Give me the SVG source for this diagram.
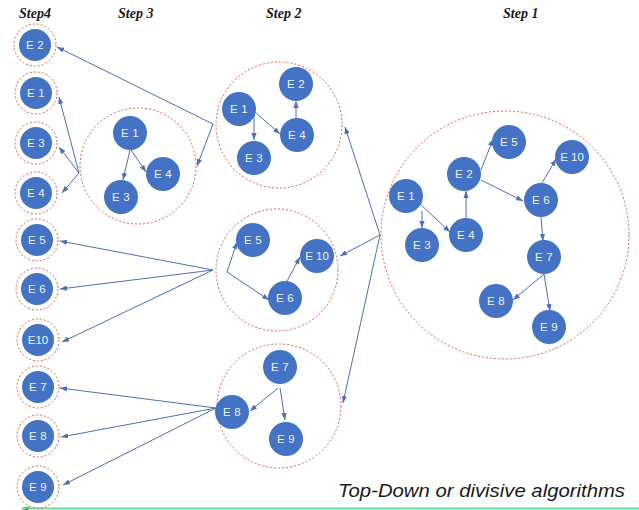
<svg xmlns="http://www.w3.org/2000/svg" width="639" height="510" viewBox="0 0 639 510">
<style>
.bg{fill:#ffffff}
.ring{fill:none;stroke:#d9604f;stroke-width:1;stroke-dasharray:2 2}
.node{fill:#4472c4}
.lbl{font-family:"Liberation Sans",Arial,sans-serif;font-size:11.5px;fill:#eef3fb;text-anchor:middle;dominant-baseline:central;letter-spacing:0.3px}
.step{font-family:"Liberation Serif","Times New Roman",serif;font-size:14px;font-weight:bold;font-style:italic;fill:#1a1a1a}
.cap{font-family:"Liberation Sans",Arial,sans-serif;font-size:19px;font-style:italic;fill:#1a1a1a}
.edge{fill:none;stroke:#4d6fb3;stroke-width:1;marker-end:url(#ah)}
</style>
<defs>
<marker id="ah" viewBox="0 0 8 6" refX="8" refY="3" markerWidth="7" markerHeight="5.5" markerUnits="userSpaceOnUse" orient="auto">
<path d="M0,0 L8,3 L0,6 z" fill="#4d6fb3"/>
</marker>
<marker id="gh" viewBox="0 0 8 6" refX="8" refY="3" markerWidth="7" markerHeight="5" markerUnits="userSpaceOnUse" orient="auto">
<path d="M0,0 L8,3 L0,6 z" fill="#3fbf6f"/>
</marker>
</defs>
<rect class="bg" x="0" y="0" width="639" height="510"/>

<g id="titles">
<text class="step" x="19" y="18">Step4</text>
<text class="step" x="118" y="18">Step 3</text>
<text class="step" x="266" y="18">Step 2</text>
<text class="step" x="503" y="18">Step 1</text>
<text class="cap" x="338" y="497" textLength="287" lengthAdjust="spacingAndGlyphs">Top-Down or divisive algorithms</text>
</g>

<g id="cluster-rings">
<circle class="ring" cx="505" cy="235" r="124"/>
<circle class="ring" cx="279" cy="125" r="63"/>
<circle class="ring" cx="277" cy="270" r="61"/>
<circle class="ring" cx="279" cy="406" r="62"/>
<circle class="ring" cx="138" cy="166" r="58"/>
</g>

<g id="connectors">
<path class="edge" d="M422,211 L422,228"/>
<path class="edge" d="M419,203 L450,232"/>
<path class="edge" d="M466,218 L466,191"/>
<path class="edge" d="M481,170 L493,139"/>
<path class="edge" d="M481,180 L523,201"/>
<path class="edge" d="M542,183 L556,159"/>
<path class="edge" d="M541,217 L543,241"/>
<path class="edge" d="M544,274 L513,300"/>
<path class="edge" d="M544,274 L550,311"/>
<path class="edge" d="M380,235 L345,127"/>
<path class="edge" d="M380,235 L340,256"/>
<path class="edge" d="M380,235 L343,403"/>
<path class="edge" d="M254,114 L254,140"/>
<path class="edge" d="M255,112 L280,134"/>
<path class="edge" d="M296,119 L296,101"/>
<path class="edge" d="M213,124 L57,47"/>
<path class="edge" d="M213,124 L197,166"/>
<path class="edge" d="M130,150 L123,180"/>
<path class="edge" d="M131,150 L146,172"/>
<path class="edge" d="M79,173 L59,97"/>
<path class="edge" d="M79,173 L59,147"/>
<path class="edge" d="M79,173 L62,193"/>
<path class="edge" d="M227,272 L237,242"/>
<path class="edge" d="M227,272 L269,300"/>
<path class="edge" d="M286,283 L300,257"/>
<path class="edge" d="M213,270 L60,241"/>
<path class="edge" d="M213,270 L60,289"/>
<path class="edge" d="M213,270 L62,342"/>
<path class="edge" d="M278,388 L250,411"/>
<path class="edge" d="M280,388 L285,420"/>
<path class="edge" d="M216,408 L60,388"/>
<path class="edge" d="M216,408 L61,437"/>
<path class="edge" d="M216,408 L63,485"/>
<path d="M639,508.5 L22,508.5" fill="none" stroke="#6fd8a0" stroke-width="2" marker-end="url(#gh)"/>
</g>

<g id="s1-E1"><circle class="node" cx="406" cy="196" r="17"/><text class="lbl" x="406" y="196">E 1</text></g>
<g id="s1-E3"><circle class="node" cx="422" cy="245" r="17"/><text class="lbl" x="422" y="245">E 3</text></g>
<g id="s1-E4"><circle class="node" cx="466" cy="235" r="17"/><text class="lbl" x="466" y="235">E 4</text></g>
<g id="s1-E2"><circle class="node" cx="464" cy="174" r="17"/><text class="lbl" x="464" y="174">E 2</text></g>
<g id="s1-E5"><circle class="node" cx="509" cy="142" r="17"/><text class="lbl" x="509" y="142">E 5</text></g>
<g id="s1-E10"><circle class="node" cx="572" cy="157" r="17"/><text class="lbl" x="572" y="157" style="letter-spacing:0">E 10</text></g>
<g id="s1-E6"><circle class="node" cx="541" cy="200" r="17"/><text class="lbl" x="541" y="200">E 6</text></g>
<g id="s1-E7"><circle class="node" cx="544" cy="257" r="17"/><text class="lbl" x="544" y="257">E 7</text></g>
<g id="s1-E8"><circle class="node" cx="496" cy="301" r="17"/><text class="lbl" x="496" y="301">E 8</text></g>
<g id="s1-E9"><circle class="node" cx="549" cy="327" r="17"/><text class="lbl" x="549" y="327">E 9</text></g>

<g id="s2a-E1"><circle class="node" cx="239" cy="109" r="17"/><text class="lbl" x="239" y="109">E 1</text></g>
<g id="s2a-E2"><circle class="node" cx="296" cy="84" r="17"/><text class="lbl" x="296" y="84">E 2</text></g>
<g id="s2a-E4"><circle class="node" cx="297" cy="135" r="17"/><text class="lbl" x="297" y="135">E 4</text></g>
<g id="s2a-E3"><circle class="node" cx="254" cy="158" r="17"/><text class="lbl" x="254" y="158">E 3</text></g>

<g id="s2b-E5"><circle class="node" cx="253" cy="240" r="17"/><text class="lbl" x="253" y="240">E 5</text></g>
<g id="s2b-E10"><circle class="node" cx="317" cy="256" r="17"/><text class="lbl" x="317" y="256" style="letter-spacing:0">E 10</text></g>
<g id="s2b-E6"><circle class="node" cx="285" cy="298" r="17"/><text class="lbl" x="285" y="298">E 6</text></g>

<g id="s2c-E7"><circle class="node" cx="280" cy="367" r="17"/><text class="lbl" x="280" y="367">E 7</text></g>
<g id="s2c-E8"><circle class="node" cx="232" cy="412" r="17"/><text class="lbl" x="232" y="412">E 8</text></g>
<g id="s2c-E9"><circle class="node" cx="286" cy="439" r="17"/><text class="lbl" x="286" y="439">E 9</text></g>

<g id="s3-E1"><circle class="node" cx="130" cy="133" r="17"/><text class="lbl" x="130" y="133">E 1</text></g>
<g id="s3-E3"><circle class="node" cx="121" cy="197" r="17"/><text class="lbl" x="121" y="197">E 3</text></g>
<g id="s3-E4"><circle class="node" cx="163" cy="174" r="17"/><text class="lbl" x="163" y="174">E 4</text></g>

<g id="s4-E2"><circle class="ring" cx="35" cy="45" r="21"/><circle class="node" cx="35" cy="45" r="16"/><text class="lbl" x="35" y="45">E 2</text></g>
<g id="s4-E1"><circle class="ring" cx="36" cy="93" r="21"/><circle class="node" cx="36" cy="93" r="16"/><text class="lbl" x="36" y="93">E 1</text></g>
<g id="s4-E3"><circle class="ring" cx="36" cy="143" r="21"/><circle class="node" cx="36" cy="143" r="16"/><text class="lbl" x="36" y="143">E 3</text></g>
<g id="s4-E4"><circle class="ring" cx="36" cy="193" r="21"/><circle class="node" cx="36" cy="193" r="16"/><text class="lbl" x="36" y="193">E 4</text></g>
<g id="s4-E5"><circle class="ring" cx="37" cy="240" r="21"/><circle class="node" cx="37" cy="240" r="16"/><text class="lbl" x="37" y="240">E 5</text></g>
<g id="s4-E6"><circle class="ring" cx="37" cy="289" r="21"/><circle class="node" cx="37" cy="289" r="16"/><text class="lbl" x="37" y="289">E 6</text></g>
<g id="s4-E10"><circle class="ring" cx="38" cy="340" r="21"/><circle class="node" cx="38" cy="340" r="16"/><text class="lbl" x="38" y="340" style="letter-spacing:0">E10</text></g>
<g id="s4-E7"><circle class="ring" cx="38" cy="387" r="21"/><circle class="node" cx="38" cy="387" r="16"/><text class="lbl" x="38" y="387">E 7</text></g>
<g id="s4-E8"><circle class="ring" cx="38" cy="436" r="21"/><circle class="node" cx="38" cy="436" r="16"/><text class="lbl" x="38" y="436">E 8</text></g>
<g id="s4-E9"><circle class="ring" cx="38" cy="487" r="21"/><circle class="node" cx="38" cy="487" r="16"/><text class="lbl" x="38" y="487">E 9</text></g>
</svg>
